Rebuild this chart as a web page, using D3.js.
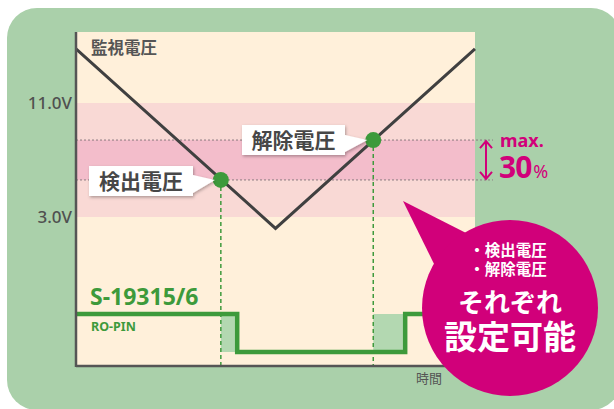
<!DOCTYPE html>
<html><head><meta charset="utf-8">
<script src="https://cdn.jsdelivr.net/npm/d3@7"></script>
<style>body{margin:0;background:#fff}svg{display:block}</style>
</head><body>
<script>
// ---- data ----
const voltageTimes = [0, 50, 100];
const voltageValues = [14.8, 2.2, 14.8];
const yTicks = [3.0, 11.0];
const detectVoltage = 5.6, releaseVoltage = 8.4;
const detectTime = 36.3, releaseTime = 74.5;
const outputTimes = [0, 40.4, 40.4, 82.5, 82.5, 100];
const outputLevels = [1, 1, 0, 0, 1, 1];
const delayRanges = [[36.3, 40.4], [74.5, 82.5]];
const bubbleLines = ["・検出電圧", "・解除電圧"];

const W = 614, H = 409;
const JP = "'Noto Sans CJK JP','Noto Sans',sans-serif";
const svg = d3.select("body").append("svg").attr("width", W).attr("height", H);
const defs = svg.append("defs");
const f = defs.append("filter").attr("id","sh").attr("x","-20%").attr("y","-30%").attr("width","150%").attr("height","170%");
f.append("feDropShadow").attr("dx",1).attr("dy",1.5).attr("stdDeviation",1.5).attr("flood-color","#000").attr("flood-opacity",0.3);

// background
svg.append("rect").attr("x",7).attr("y",8).attr("width",614).attr("height",402).attr("rx",30).attr("fill","#aad0aa");

const x = d3.scaleLinear().domain([0,100]).range([76,475]);
const y = d3.scaleLinear().domain([3,11]).range([217,103]);
const yOut = d3.scaleLinear().domain([0,1]).range([352,314]);
const yTop = 32, yBottom = 366;

// panel
svg.append("rect").attr("x",x(0)).attr("y",yTop).attr("width",x(100)-x(0)).attr("height",yBottom-yTop).attr("fill","#fff0da");
svg.append("rect").attr("x",x(0)).attr("y",y(11)).attr("width",x(100)-x(0)).attr("height",y(3)-y(11)).attr("fill","#f9d9d5");
svg.append("rect").attr("x",x(0)).attr("y",y(releaseVoltage)).attr("width",x(100)-x(0)).attr("height",y(detectVoltage)-y(releaseVoltage)).attr("fill","#f3bdcb");

// dotted lines
[releaseVoltage, detectVoltage].forEach(v=>{
  svg.append("line").attr("x1",x(0)).attr("x2",493).attr("y1",y(v)).attr("y2",y(v))
    .attr("stroke","#8a7a80").attr("stroke-width",1).attr("stroke-dasharray","2,2");
});

// delay rects
svg.selectAll("rect.delay").data(delayRanges).join("rect").attr("class","delay")
  .attr("x",d=>x(d[0])).attr("width",d=>x(d[1])-x(d[0]))
  .attr("y",yOut(1)).attr("height",yOut(0)-yOut(1)).attr("fill","#b3d8b1");

// vertical dashed green
[[detectTime,detectVoltage],[releaseTime,releaseVoltage]].forEach(([t,v])=>{
  svg.append("line").attr("x1",x(t)).attr("x2",x(t)).attr("y1",y(v)).attr("y2",yBottom)
    .attr("stroke","#3f9a3d").attr("stroke-width",1.5).attr("stroke-dasharray","4,3");
});

// output line
svg.append("path").datum(outputTimes.map((t,i)=>[t,outputLevels[i]]))
  .attr("d", d3.line().x(d=>x(d[0])).y(d=>yOut(d[1])))
  .attr("fill","none").attr("stroke","#3d9a3b").attr("stroke-width",4.5);

// voltage line
svg.append("path").datum(voltageTimes.map((t,i)=>[t,voltageValues[i]]))
  .attr("d", d3.line().x(d=>x(d[0])).y(d=>y(d[1])))
  .attr("fill","none").attr("stroke","#404040").attr("stroke-width",3);

// axes
const yAxis = d3.axisLeft(y).tickValues(yTicks).tickSize(0).tickPadding(4).tickFormat(d=>d.toFixed(1)+"V");
const ga = svg.append("g").attr("transform",`translate(${x(0)},0)`).call(yAxis);
ga.select(".domain").remove();
ga.selectAll("text").attr("font-family","'Noto Sans',sans-serif").attr("font-size",17).attr("fill","#505050").attr("font-weight",500);
svg.append("line").attr("x1",x(0)).attr("x2",x(0)).attr("y1",yTop).attr("y2",yBottom+1).attr("stroke","#555").attr("stroke-width",2.5);
svg.append("line").attr("x1",x(0)).attr("x2",x(100)).attr("y1",yBottom).attr("y2",yBottom).attr("stroke","#555").attr("stroke-width",2.5);

// dots
[[detectTime,detectVoltage],[releaseTime,releaseVoltage]].forEach(([t,v])=>{
  svg.append("circle").attr("cx",x(t)).attr("cy",y(v)).attr("r",8).attr("fill","#3d9a3b");
});

// callout labels
function callout(t, v, text, bx, by, bw, bh){
  const g = svg.append("g").attr("filter","url(#sh)");
  const tipX = x(t)-6, tipY = y(v);
  g.append("path").attr("d",
    `M${bx},${by}H${bx+bw}V${tipY-5}L${tipX},${tipY}L${bx+bw},${by+bh-3}V${by+bh}H${bx}Z`).attr("fill","#fff");
  svg.append("text").attr("x",bx+bw/2).attr("y",by+bh/2+7.5).attr("text-anchor","middle")
    .attr("font-family",JP).attr("font-size",21).attr("font-weight",700).attr("fill","#474747").text(text);
}
callout(detectTime, detectVoltage, "検出電圧", 89, 166, 104, 30);
callout(releaseTime, releaseVoltage, "解除電圧", 242, 125, 103, 30);

// texts
svg.append("text").attr("x",91).attr("y",54).attr("font-family",JP).attr("font-size",16.5).attr("font-weight",700).attr("fill","#555").text("監視電圧");
svg.append("text").attr("x",90).attr("y",305).attr("font-family","'Noto Sans',sans-serif").attr("font-size",23).attr("font-weight",700).attr("fill","#3d9a3b").text("S-19315/6");
svg.append("text").attr("x",91).attr("y",331).attr("font-family","'Noto Sans',sans-serif").attr("font-size",12.5).attr("font-weight",700).attr("fill","#3d9a3b").text("RO-PIN");
svg.append("text").attr("x",416).attr("y",383).attr("font-family",JP).attr("font-size",13).attr("fill","#555").text("時間");

// max 30%
const mag = "#d1007a";
const ay1 = y(releaseVoltage)+1, ay2 = y(detectVoltage)-1, ax = 486;
svg.append("path").attr("d",`M${ax},${ay1}V${ay2}M${ax-6},${ay1+7}L${ax},${ay1}L${ax+6},${ay1+7}M${ax-6},${ay2-7}L${ax},${ay2}L${ax+6},${ay2-7}`)
  .attr("fill","none").attr("stroke",mag).attr("stroke-width",2);
svg.append("text").attr("x",500).attr("y",147).attr("font-family","'Noto Sans',sans-serif").attr("font-size",18).attr("font-weight",700).attr("fill",mag).text("max.");
const t30 = svg.append("text").attr("x",499).attr("y",178).attr("font-family","'Noto Sans',sans-serif").attr("font-weight",700).attr("fill",mag).attr("letter-spacing",-1);
t30.append("tspan").attr("font-size",30).text("30");
t30.append("tspan").attr("font-size",18).attr("font-weight",400).attr("dx",2).text("%");

// bubble
svg.append("path").attr("d","M403,201L472,236L438,272Z").attr("fill",mag);
svg.append("circle").attr("cx",510).attr("cy",308).attr("r",88).attr("fill",mag);
bubbleLines.forEach((s,i)=>{
  svg.append("text").attr("x",508).attr("y",256+i*19).attr("text-anchor","middle").attr("font-family",JP)
    .attr("font-size",15.5).attr("font-weight",700).attr("fill","#fff").text(s);
});
svg.append("text").attr("x",510).attr("y",312).attr("text-anchor","middle").attr("font-family",JP)
  .attr("font-size",26).attr("font-weight",700).attr("fill","#fff").text("それぞれ");
svg.append("text").attr("x",510).attr("y",349).attr("text-anchor","middle").attr("font-family",JP)
  .attr("font-size",33).attr("font-weight",700).attr("fill","#fff").text("設定可能");
</script>
</body></html>
